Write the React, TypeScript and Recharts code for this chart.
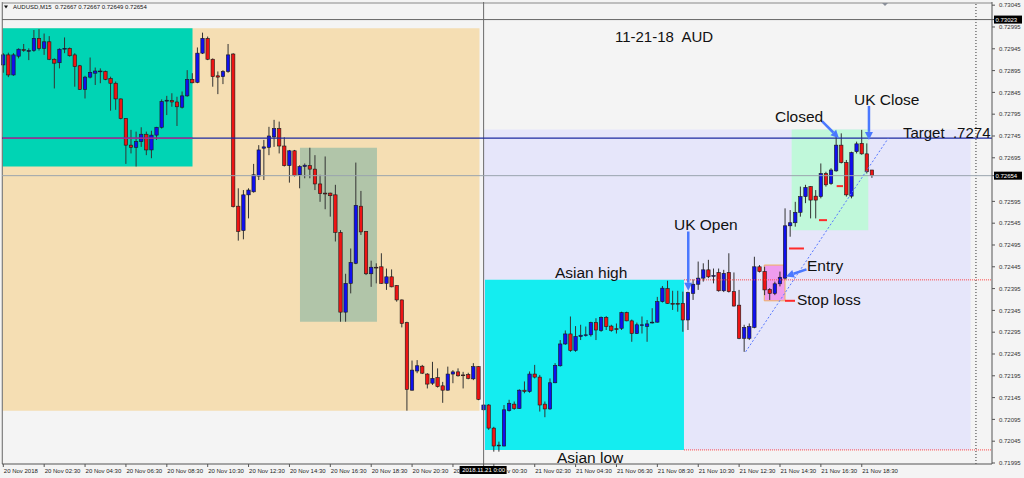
import React from "react";
import {
  Bar,
  ComposedChart,
  ReferenceArea,
  ReferenceDot,
  ReferenceLine,
  XAxis,
  YAxis,
} from "recharts";

// AUDUSD M15, 20 Nov 00:30 -> 21 Nov 19:00, prices in points (1e-5)
const opens = [
  72908, 72931, 72885, 72928, 72943, 72940, 72941, 72969, 72946, 72961,
  72921, 72913, 72945, 72946, 72931, 72906, 72852, 72880, 72889, 72893,
  72893, 72877, 72866, 72830, 72785, 72724, 72719, 72732, 72749, 72713,
  72747, 72765, 72825, 72826, 72823, 72811, 72837, 72875, 72868, 72935,
  72969, 72921, 72883, 72881, 72893, 72933, 72584, 72528, 72610, 72617,
  72653, 72717, 72719, 72743, 72762, 72722, 72677, 72711, 72656, 72675,
  72677, 72669, 72635, 72614, 72614, 72610, 72524, 72341, 72407, 72453,
  72584, 72526, 72429, 72444, 72445, 72407, 72422, 72402, 72369, 72317,
  72162, 72206, 72217, 72199, 72178, 72191, 72172, 72162, 72199, 72204,
  72197, 72198, 72188, 72216, 72117, 72128, 72075, 72036, 72034, 72115,
  72130, 72120, 72162, 72159, 72199, 72192, 72130, 72119, 72179, 72218,
  72268, 72291, 72253, 72285, 72288, 72289, 72317, 72299, 72329, 72309,
  72303, 72304, 72340, 72321, 72292, 72311, 72308, 72317, 72318, 72365,
  72395, 72361, 72361, 72361, 72323, 72384, 72405, 72419, 72438, 72424,
  72432, 72390, 72432, 72388, 72357, 72281, 72281, 72306, 72445, 72434,
  72393, 72384, 72406, 72419, 72539, 72546, 72570, 72606, 72629, 72607,
  72606, 72659, 72636, 72665, 72724, 72684, 72607, 72709, 72728, 72704,
  72667,
];
const highs = [
  72935, 72936, 72935, 72946, 72956, 72946, 72988, 72990, 72980, 72974,
  72923, 72946, 72971, 72948, 72935, 72908, 72883, 72925, 72902, 72900,
  72895, 72881, 72870, 72831, 72786, 72759, 72755, 72765, 72755, 72757,
  72766, 72829, 72837, 72843, 72835, 72847, 72896, 72889, 72948, 72982,
  72973, 72923, 72893, 72896, 72956, 72935, 72625, 72621, 72625, 72681,
  72724, 72736, 72766, 72782, 72778, 72742, 72713, 72713, 72678, 72682,
  72718, 72701, 72656, 72698, 72615, 72633, 72529, 72429, 72487, 72684,
  72619, 72527, 72459, 72453, 72476, 72441, 72439, 72403, 72370, 72319,
  72230, 72231, 72220, 72201, 72227, 72212, 72181, 72216, 72208, 72212,
  72204, 72202, 72224, 72217, 72130, 72130, 72078, 72044, 72128, 72140,
  72136, 72164, 72182, 72205, 72220, 72197, 72136, 72189, 72224, 72277,
  72299, 72331, 72309, 72312, 72308, 72319, 72327, 72331, 72332, 72312,
  72315, 72342, 72342, 72324, 72317, 72331, 72323, 72350, 72376, 72401,
  72413, 72390, 72390, 72388, 72388, 72416, 72457, 72453, 72461, 72441,
  72441, 72438, 72476, 72432, 72392, 72312, 72315, 72468, 72449, 72445,
  72396, 72411, 72434, 72579, 72575, 72594, 72629, 72633, 72630, 72621,
  72682, 72663, 72671, 72747, 72751, 72690, 72709, 72732, 72759, 72728,
  72667,
];
const lows = [
  72890, 72880, 72883, 72923, 72938, 72919, 72938, 72941, 72931, 72919,
  72854, 72900, 72935, 72927, 72858, 72851, 72831, 72877, 72862, 72866,
  72873, 72803, 72805, 72783, 72681, 72705, 72675, 72720, 72701, 72694,
  72736, 72762, 72793, 72812, 72768, 72808, 72835, 72866, 72866, 72933,
  72919, 72858, 72841, 72864, 72890, 72581, 72505, 72508, 72556, 72615,
  72644, 72644, 72701, 72720, 72705, 72675, 72638, 72652, 72625, 72648,
  72648, 72621, 72594, 72577, 72560, 72503, 72319, 72319, 72384, 72451,
  72518, 72426, 72399, 72407, 72406, 72392, 72398, 72365, 72306, 72115,
  72161, 72201, 72199, 72166, 72174, 72168, 72133, 72161, 72178, 72193,
  72166, 72187, 72185, 72139, 72115, 72071, 72021, 72021, 72033, 72113,
  72117, 72119, 72155, 72156, 72189, 72113, 72100, 72117, 72178, 72216,
  72266, 72250, 72250, 72277, 72285, 72285, 72277, 72296, 72300, 72296,
  72292, 72300, 72320, 72273, 72291, 72292, 72273, 72315, 72317, 72363,
  72360, 72346, 72342, 72296, 72300, 72369, 72392, 72411, 72419, 72407,
  72388, 72387, 72386, 72354, 72279, 72250, 72277, 72304, 72432, 72380,
  72369, 72380, 72400, 72416, 72514, 72537, 72560, 72591, 72556, 72556,
  72602, 72629, 72633, 72663, 72682, 72606, 72602, 72705, 72702, 72659,
  72649,
];
const closes = [
  72931, 72885, 72931, 72944, 72941, 72941, 72969, 72946, 72961, 72921,
  72912, 72944, 72946, 72929, 72904, 72852, 72880, 72891, 72894, 72894,
  72875, 72866, 72830, 72785, 72724, 72719, 72732, 72749, 72713, 72747,
  72765, 72824, 72827, 72823, 72812, 72837, 72875, 72867, 72935, 72969,
  72921, 72881, 72880, 72893, 72931, 72583, 72526, 72610, 72621, 72656,
  72713, 72720, 72745, 72762, 72722, 72677, 72711, 72654, 72675, 72678,
  72669, 72635, 72613, 72612, 72608, 72524, 72341, 72407, 72455, 72586,
  72525, 72429, 72444, 72443, 72407, 72422, 72399, 72369, 72315, 72164,
  72208, 72218, 72201, 72176, 72189, 72170, 72162, 72199, 72204, 72195,
  72196, 72189, 72216, 72141, 72128, 72075, 72034, 72035, 72117, 72132,
  72120, 72162, 72159, 72199, 72192, 72128, 72119, 72179, 72219, 72268,
  72291, 72253, 72285, 72288, 72289, 72317, 72300, 72329, 72308, 72299,
  72302, 72340, 72321, 72292, 72312, 72312, 72314, 72318, 72365, 72396,
  72361, 72360, 72360, 72323, 72386, 72405, 72419, 72438, 72422, 72425,
  72390, 72430, 72388, 72355, 72281, 72306, 72308, 72445, 72434, 72392,
  72384, 72406, 72421, 72539, 72546, 72570, 72606, 72627, 72598, 72598,
  72659, 72633, 72667, 72724, 72684, 72610, 72707, 72727, 72704, 72663,
  72654,
];

const timeTicks = [0, 8, 16, 24, 32, 40, 48, 56, 64, 72, 80, 88, 96, 104, 112, 120, 128, 136, 144, 152, 160, 168];
const timeLabels = [
  "20 Nov 2018", "20 Nov 02:30", "20 Nov 04:30", "20 Nov 06:30", "20 Nov 08:30",
  "20 Nov 10:30", "20 Nov 12:30", "20 Nov 14:30", "20 Nov 16:30", "20 Nov 18:30",
  "20 Nov 20:30", "20 Nov 22:30", "21 Nov 00:30", "21 Nov 02:30", "21 Nov 04:30",
  "21 Nov 06:30", "21 Nov 08:30", "21 Nov 10:30", "21 Nov 12:30", "21 Nov 14:30",
  "21 Nov 16:30", "21 Nov 18:30",
];
const priceTicks = [
  71995, 72045, 72095, 72145, 72195, 72245, 72295, 72345, 72395, 72445, 72495,
  72545, 72595, 72695, 72745, 72795, 72845, 72895, 72945, 72995, 73045,
];

const DAY_SPLIT = 94; // 2018.11.21 0:00
const LAST_PRICE = 72654;
const HLINE = 73012;
const TARGET = 72740;

const BLUE = "#1010ee";
const RED = "#ee1414";
const ARROW = "#4a78ff";

const rows = opens.map((o, i) => ({
  i,
  o,
  h: highs[i],
  l: lows[i],
  c: closes[i],
  range: [lows[i], highs[i]],
}));

const Candle = (props: any) => {
  const { x, y, width, height, payload } = props;
  if (x == null || y == null) return null;
  const { o, h, l, c } = payload;
  const cx = x + width / 2;
  const top = Math.min(y, y + height);
  const hh = Math.abs(height);
  const k = h === l ? 0 : hh / (h - l);
  const yo = top + (h - o) * k;
  const yc = top + (h - c) * k;
  const bTop = Math.min(yo, yc);
  const bH = Math.max(Math.abs(yo - yc), 0.8);
  return (
    <g>
      <line x1={cx} x2={cx} y1={top} y2={top + hh} stroke="#333" strokeWidth={1} />
      <rect
        x={cx - 1.7}
        y={bTop}
        width={3.4}
        height={bH}
        fill={c >= o ? BLUE : RED}
        stroke="#1a1a1a"
        strokeWidth={0.6}
      />
    </g>
  );
};

const arrowShape = (props: any) => {
  const { x1, y1, x2, y2 } = props;
  const a = Math.atan2(y2 - y1, x2 - x1);
  const bx = x2 - 8 * Math.cos(a);
  const by = y2 - 8 * Math.sin(a);
  const px = -Math.sin(a) * 4;
  const py = Math.cos(a) * 4;
  return (
    <g>
      <line x1={x1} y1={y1} x2={bx} y2={by} stroke={ARROW} strokeWidth={2.5} />
      <polygon points={`${x2},${y2} ${bx + px},${by + py} ${bx - px},${by - py}`} fill={ARROW} />
    </g>
  );
};

const textShape = (label: string, size = 15.5) => (props: any) => (
  <text
    x={props.cx}
    y={props.cy}
    fontSize={size}
    fill="#111"
    dominantBaseline="central"
    style={{ whiteSpace: "pre" }}
    fontFamily="'Liberation Sans', Arial, sans-serif"
  >
    {label}
  </text>
);

// the black time box hides most of the two labels around the day split
const XTick = (props: any) => {
  const { x, y, payload } = props;
  const v = payload.value;
  if (v === DAY_SPLIT) {
    return (
      <g>
        <rect x={x - 24} y={y - 2} width={47} height={8} fill="#000" />
        <text x={x} y={y + 4.2} fontSize={6} fill="#fff" textAnchor="middle">
          2018.11.21 0:00
        </text>
      </g>
    );
  }
  const k = timeTicks.indexOf(v);
  let label = timeLabels[k];
  let dx = 0.5;
  if (v === DAY_SPLIT - 6) label = label.slice(0, 2);
  if (v === DAY_SPLIT + 2) {
    label = label.slice(5);
    dx = 13.5;
  }
  return (
    <text x={x + dx} y={y + 4.5} fontSize={6} fill="#222" style={{ whiteSpace: "pre" }}>
      {label}
    </text>
  );
};

const YTick = (props: any) => {
  const { x, y, payload } = props;
  const v = payload.value;
  if (v === LAST_PRICE || v === HLINE) {
    return (
      <g>
        <rect x={x - 5} y={y - 4} width={28} height={8} fill="#000" />
        <text x={x - 3.5} y={y + 2.2} fontSize={6} fill="#fff">
          {v === HLINE ? "0.73023" : (v / 1e5).toFixed(5)}
        </text>
      </g>
    );
  }
  return (
    <text x={x} y={y + 2.2} fontSize={6} fill="#333">
      {(v / 1e5).toFixed(5)}
    </text>
  );
};

const redDash = (x1: number, x2: number, p: number) => (
  <ReferenceLine
    key={`d${x1}`}
    segment={[{ x: x1, y: p }, { x: x2, y: p }]}
    stroke="#ff2a2a"
    strokeWidth={2}
  />
);

export default function App() {
  return (
    <div
      style={{
        position: "relative",
        width: 1024,
        height: 478,
        background: "#f4f4f4",
        fontFamily: "'Liberation Sans', Arial, sans-serif",
      }}
    >
      <style>{"body{margin:0}"}</style>
      <ComposedChart
        width={1024}
        height={478}
        data={rows}
        margin={{ top: 2, right: 0, bottom: 0, left: 2 }}
      >
        <XAxis
          dataKey="i"
          type="number"
          domain={[-0.254, 193.49]}
          ticks={[...timeTicks, DAY_SPLIT]}
          interval={0}
          height={14}
          axisLine={{ stroke: "#555" }}
          tickLine={{ stroke: "#555" }}
          tickSize={3}
          tickMargin={1}
          tick={<XTick />}
        />
        <YAxis
          orientation="right"
          type="number"
          domain={[71992.7, 73052.3]}
          ticks={[...priceTicks, HLINE, LAST_PRICE]}
          interval={0}
          width={32}
          axisLine={{ stroke: "#555" }}
          tickLine={{ stroke: "#555" }}
          tickSize={3}
          tickMargin={4}
          tick={<YTick />}
        />

        <ReferenceArea x1={-0.12} x2={93.19} y1={72115} y2={72992} fill="#f5deb3" fillOpacity={1} stroke="none" />
        <ReferenceArea x1={-0.12} x2={37.03} y1={72675} y2={72992} fill="#00d4b4" fillOpacity={1} stroke="none" />
        <ReferenceArea x1={58.06} x2={73.13} y1={72319} y2={72718} fill="#b1c5a9" fillOpacity={1} stroke="none" />
        <ReferenceArea x1={94.07} x2={189.3} y1={72025} y2={72760} fill="#e6e6fa" fillOpacity={1} stroke="none" />
        <ReferenceArea x1={94.27} x2={133.21} y1={72025} y2={72415} fill="#14edf0" fillOpacity={1} stroke="none" />
        <ReferenceArea x1={154.28} x2={169.28} y1={72529} y2={72760} fill="#c0f8da" fillOpacity={1} stroke="none" />
        <ReferenceArea x1={148.92} x2={152.98} y1={72367} y2={72449} fill="#ee9cee" fillOpacity={1} stroke="#f0b060" />

        <ReferenceLine x={-0.2} stroke="#666" />
        <ReferenceLine y={73050} stroke="#888" />
        <ReferenceLine y={HLINE} stroke="#666" />
        <ReferenceLine x={DAY_SPLIT} stroke="#6a6a6a" />
        <ReferenceLine x={190.35} stroke="#333" strokeDasharray="1 2" />
        <ReferenceLine y={LAST_PRICE} stroke="#9aa4ae" />
        <ReferenceLine y={TARGET} stroke="#1c2aa0" strokeWidth={1.2} />
        <ReferenceLine
          segment={[{ x: -0.12, y: TARGET }, { x: 37.03, y: TARGET }]}
          stroke="#c0308c"
          strokeWidth={1.2}
        />
        <ReferenceLine
          segment={[{ x: 133.21, y: 72415 }, { x: 193.4, y: 72415 }]}
          stroke="#ff4444"
          strokeDasharray="1 1"
        />
        <ReferenceLine
          segment={[{ x: 133.21, y: 72025 }, { x: 193.4, y: 72025 }]}
          stroke="#ff4444"
          strokeDasharray="1 1"
        />

        <Bar dataKey="range" barSize={3} shape={<Candle />} isAnimationActive={false} />

        <ReferenceLine
          segment={[{ x: 145.28, y: 72250 }, { x: 173.19, y: 72740 }]}
          stroke="#5577ff"
          strokeDasharray="2 2"
        />
        {redDash(152.98, 154.94, 72367)}
        {redDash(153.76, 156.69, 72487)}
        {redDash(159.63, 161.2, 72552)}
        {redDash(163.09, 164.33, 72630)}

        <ReferenceLine segment={[{ x: 134.05, y: 72526 }, { x: 134.05, y: 72390 }]} shape={arrowShape} />
        <ReferenceLine segment={[{ x: 160.22, y: 72779 }, { x: 163.54, y: 72740 }]} shape={arrowShape} />
        <ReferenceLine segment={[{ x: 169.41, y: 72814 }, { x: 169.41, y: 72736 }]} shape={arrowShape} />
        <ReferenceLine segment={[{ x: 157.18, y: 72439 }, { x: 153.17, y: 72423 }]} shape={arrowShape} />

        <ReferenceDot x={119.7} y={72974} shape={textShape("11-21-18  AUD", 15)} />
        <ReferenceDot x={107.96} y={72433} shape={textShape("Asian high")} />
        <ReferenceDot x={108.35} y={72006.5} shape={textShape("Asian low")} />
        <ReferenceDot x={131.25} y={72541} shape={textShape("UK Open")} />
        <ReferenceDot x={151.02} y={72789} shape={textShape("Closed")} />
        <ReferenceDot x={166.48} y={72828} shape={textShape("UK Close")} />
        <ReferenceDot x={176.06} y={72754} shape={textShape("Target  .7274", 15)} />
        <ReferenceDot x={157.28} y={72447} shape={textShape("Entry")} />
        <ReferenceDot x={155.32} y={72371} shape={textShape("Stop loss")} />
      </ComposedChart>

      <svg
        width={1024}
        height={12}
        style={{ position: "absolute", left: 0, top: 0, pointerEvents: "none" }}
      >
        <polygon points="4,5.5 8,5.5 6,8.5" fill="#111" />
        <text x={13} y={9} fontSize={6} fill="#111" style={{ whiteSpace: "pre" }}>
          {"AUDUSD,M15  0.72667 0.72667 0.72649 0.72654"}
        </text>
        <polygon points="882,3 888,3 885,6" fill="#8a8f99" />
      </svg>
    </div>
  );
}
